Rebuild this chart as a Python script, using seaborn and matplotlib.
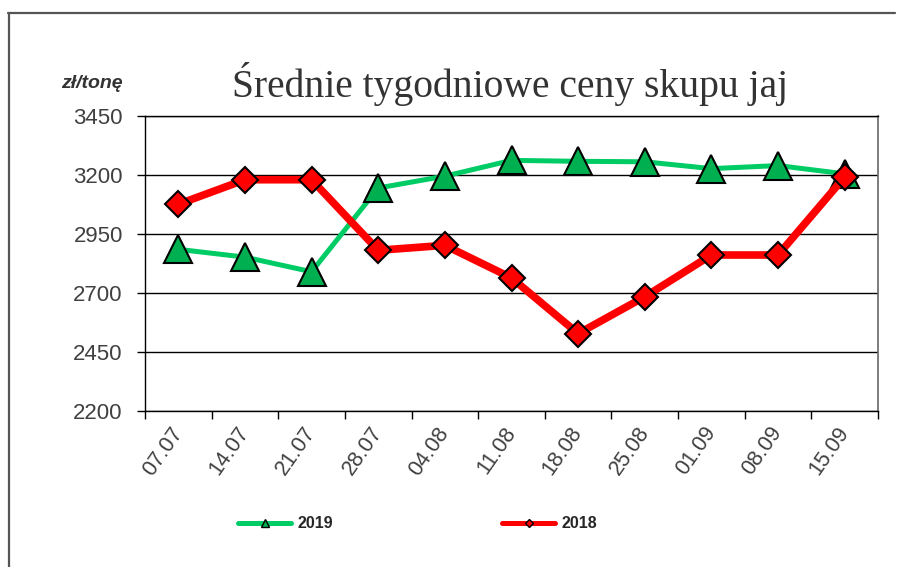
import matplotlib
matplotlib.use('Agg')
import matplotlib.pyplot as plt
import seaborn as sns
import pandas as pd
from matplotlib.lines import Line2D

# dane
tygodnie = ['07.07', '14.07', '21.07', '28.07', '04.08', '11.08',
            '18.08', '25.08', '01.09', '08.09', '15.09']
ceny_2019 = [2885, 2852, 2790, 3145, 3195, 3262, 3258, 3256, 3227, 3240, 3205]
ceny_2018 = [3076, 3180, 3180, 2881, 2902, 2764, 2528, 2684, 2861, 2861, 3192]
y_ticks = [2200, 2450, 2700, 2950, 3200, 3450]

df19 = pd.DataFrame({'tydzien': tygodnie, 'cena': ceny_2019})
df18 = pd.DataFrame({'tydzien': tygodnie, 'cena': ceny_2018})

sns.set_style('white')
plt.rcParams['font.family'] = ['Liberation Sans', 'DejaVu Sans']

fig = plt.figure(figsize=(8.99, 5.67), dpi=100)
ax = fig.add_axes([145 / 899, 1 - 411 / 567, (878 - 145) / 899, (411 - 116) / 567])

# ramka wokół wykresu (góra i lewa strona)
fig.add_artist(Line2D([8 / 899, 895 / 899], [1 - 13 / 567, 1 - 13 / 567],
                      transform=fig.transFigure, color='#555555', lw=1.6))
fig.add_artist(Line2D([8.5 / 899, 8.5 / 899], [1 - 13 / 567, 0],
                      transform=fig.transFigure, color='#555555', lw=1.6))

sns.lineplot(data=df19, x='tydzien', y='cena', ax=ax, color='#00CC66', lw=3.6,
             marker='^', markersize=20, markerfacecolor='#00B050',
             markeredgecolor='black', markeredgewidth=1.5, sort=False)
sns.lineplot(data=df18, x='tydzien', y='cena', ax=ax, color='#FF0000', lw=5.5,
             marker='D', markersize=13, markerfacecolor='#FF0000',
             markeredgecolor='black', markeredgewidth=1.5, sort=False)

ax.set_xlim(-0.5, len(tygodnie) - 0.5)
ax.set_ylim(2200, 3450)
ax.set_yticks(y_ticks)
ax.set_yticklabels([str(v) for v in y_ticks], fontsize=16, color='#404040')
ax.set_xticks(range(len(tygodnie)))
ax.set_xticklabels(tygodnie, rotation=55, fontsize=15.5, color='#404040',
                   ha='right', va='center', rotation_mode='anchor')
ax.set_xticks([i - 0.5 for i in range(len(tygodnie) + 1)], minor=True)
ax.tick_params(axis='x', which='major', length=0, pad=13)
ax.tick_params(axis='x', which='minor', length=6, width=1, color='black', direction='out', bottom=True)
ax.tick_params(axis='y', length=6, width=1, color='black', direction='out', left=True, pad=10)
ax.grid(axis='y', color='black', lw=1)
ax.set_axisbelow(True)
ax.set_xlabel('')
ax.set_ylabel('')
for s in ['left', 'bottom', 'top']:
    ax.spines[s].set_color('black')
    ax.spines[s].set_linewidth(1)
ax.spines['right'].set_color('#666666')
ax.spines['right'].set_linewidth(1.2)

fig.text(61 / 899, 1 - 88 / 567, 'zł/tonę', fontsize=14, fontweight='bold',
         fontstyle='italic', color='#333333', va='baseline')
fig.text(510 / 899, 1 - 97 / 567, 'Średnie tygodniowe ceny skupu jaj',
         fontsize=28.5, family=['Liberation Serif', 'DejaVu Serif'], color='#333333',
         ha='center', va='baseline')

handles = [
    Line2D([], [], color='#00CC66', lw=3.6, marker='^', markersize=6,
           markerfacecolor='#00B050', markeredgecolor='black', markeredgewidth=1),
    Line2D([], [], color='#FF0000', lw=3.6, marker='D', markersize=4.5,
           markerfacecolor='#FF0000', markeredgecolor='black', markeredgewidth=1),
]
fig.legend(handles, ['2019', '2018'], loc='center left',
           bbox_to_anchor=(224 / 899, 1 - 524 / 567), ncol=2, frameon=False,
           handlelength=3.3, handletextpad=0.4, columnspacing=10.6,
           prop={'weight': 'bold', 'size': 11.5})

fig.savefig('out.png', dpi=100)
